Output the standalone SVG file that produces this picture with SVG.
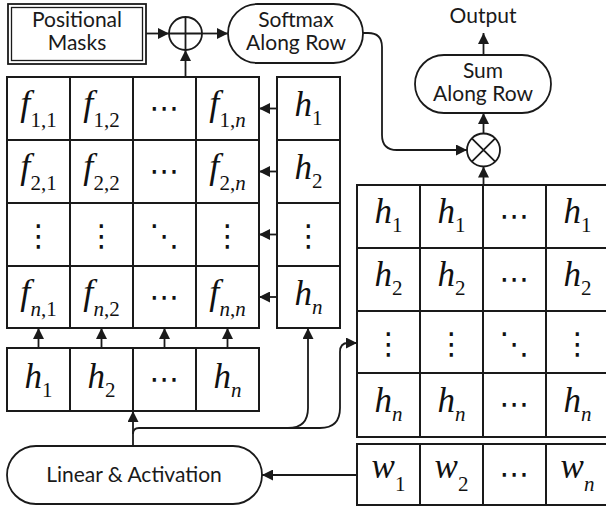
<svg xmlns="http://www.w3.org/2000/svg" width="606" height="508" viewBox="0 0 606 508">
<defs>
<style>
.bx{fill:#fff;stroke:#1a1a1a;stroke-width:1.8}
.cell{fill:#fff;stroke:#1a1a1a;stroke-width:2}
.ln{fill:none;stroke:#1a1a1a;stroke-width:1.8}
</style>
<marker id="ah" viewBox="0 0 10 10" refX="10" refY="5" markerWidth="11" markerHeight="11" markerUnits="userSpaceOnUse" orient="auto">
<path d="M0,0 L10,5 L0,10 z" fill="#1a1a1a"/>
</marker>
</defs>

<g id="positional-masks">
<rect class="bx" x="8" y="4" width="138" height="60"/>
<rect class="bx" x="11.5" y="7.5" width="131" height="53" style="stroke-width:1.3"/>
<text style="font-family:Lato,sans-serif;font-size:21px;fill:#1a1a1a;text-anchor:middle" x="77" y="27">Positional</text>
<text style="font-family:Lato,sans-serif;font-size:21px;fill:#1a1a1a;text-anchor:middle" x="77" y="50">Masks</text>
</g>

<g id="plus">
<circle class="bx" cx="185.5" cy="33.5" r="16.5"/>
<path class="ln" d="M169,33.5 H202 M185.5,17 V50"/>
</g>

<g id="softmax">
<rect class="bx" x="228" y="4" width="135" height="59" rx="29.5"/>
<text style="font-family:Lato,sans-serif;font-size:21px;fill:#1a1a1a;text-anchor:middle" x="296" y="27">Softmax</text>
<text style="font-family:Lato,sans-serif;font-size:21px;fill:#1a1a1a;text-anchor:middle" x="296" y="50">Along Row</text>
</g>

<g id="output"><text style="font-family:Lato,sans-serif;font-size:21px;fill:#1a1a1a;text-anchor:middle" x="483" y="23">Output</text></g>

<g id="sum">
<rect class="bx" x="415" y="55" width="136" height="58" rx="29"/>
<text style="font-family:Lato,sans-serif;font-size:21px;fill:#1a1a1a;text-anchor:middle" x="483" y="78">Sum</text>
<text style="font-family:Lato,sans-serif;font-size:21px;fill:#1a1a1a;text-anchor:middle" x="483" y="101">Along Row</text>
</g>

<g id="times">
<circle class="bx" cx="483.5" cy="150" r="16.5"/>
<path class="ln" d="M471.8,138.3 L495.2,161.7 M495.2,138.3 L471.8,161.7"/>
</g>

<g id="f-matrix">
<rect class="cell" x="7" y="77" width="252" height="251"/>
<path class="ln" style="stroke-width:2" d="M70,77 V328 M133,77 V328 M196,77 V328 M7,140 H259 M7,203 H259 M7,266 H259"/>
<text style="font-family:'Liberation Serif',serif;font-size:36px;font-style:italic;fill:#111;text-anchor:middle" x="38.5" y="115">f<tspan style="font-size:21px;font-style:normal" dy="12">1,1</tspan></text>
<text style="font-family:'Liberation Serif',serif;font-size:36px;font-style:italic;fill:#111;text-anchor:middle" x="101.5" y="115">f<tspan style="font-size:21px;font-style:normal" dy="12">1,2</tspan></text>
<text style="font-family:'DejaVu Sans',sans-serif;font-size:30px;fill:#111;text-anchor:middle" x="164.5" y="118">⋯</text>
<text style="font-family:'Liberation Serif',serif;font-size:36px;font-style:italic;fill:#111;text-anchor:middle" x="227.5" y="115">f<tspan style="font-size:21px;font-style:normal" dy="12">1,</tspan><tspan style="font-size:21px">n</tspan></text>
<text style="font-family:'Liberation Serif',serif;font-size:36px;font-style:italic;fill:#111;text-anchor:middle" x="38.5" y="178">f<tspan style="font-size:21px;font-style:normal" dy="12">2,1</tspan></text>
<text style="font-family:'Liberation Serif',serif;font-size:36px;font-style:italic;fill:#111;text-anchor:middle" x="101.5" y="178">f<tspan style="font-size:21px;font-style:normal" dy="12">2,2</tspan></text>
<text style="font-family:'DejaVu Sans',sans-serif;font-size:30px;fill:#111;text-anchor:middle" x="164.5" y="181">⋯</text>
<text style="font-family:'Liberation Serif',serif;font-size:36px;font-style:italic;fill:#111;text-anchor:middle" x="227.5" y="178">f<tspan style="font-size:21px;font-style:normal" dy="12">2,</tspan><tspan style="font-size:21px">n</tspan></text>
<text style="font-family:'DejaVu Sans',sans-serif;font-size:30px;fill:#111;text-anchor:middle" x="38.5" y="246">⋮</text>
<text style="font-family:'DejaVu Sans',sans-serif;font-size:30px;fill:#111;text-anchor:middle" x="101.5" y="246">⋮</text>
<text style="font-family:'DejaVu Sans',sans-serif;font-size:30px;fill:#111;text-anchor:middle" x="164.5" y="246">⋱</text>
<text style="font-family:'DejaVu Sans',sans-serif;font-size:30px;fill:#111;text-anchor:middle" x="227.5" y="246">⋮</text>
<text style="font-family:'Liberation Serif',serif;font-size:36px;font-style:italic;fill:#111;text-anchor:middle" x="38.5" y="304">f<tspan style="font-size:21px" dy="12">n</tspan><tspan style="font-size:21px;font-style:normal">,1</tspan></text>
<text style="font-family:'Liberation Serif',serif;font-size:36px;font-style:italic;fill:#111;text-anchor:middle" x="101.5" y="304">f<tspan style="font-size:21px" dy="12">n</tspan><tspan style="font-size:21px;font-style:normal">,2</tspan></text>
<text style="font-family:'DejaVu Sans',sans-serif;font-size:30px;fill:#111;text-anchor:middle" x="164.5" y="307">⋯</text>
<text style="font-family:'Liberation Serif',serif;font-size:36px;font-style:italic;fill:#111;text-anchor:middle" x="227.5" y="304">f<tspan style="font-size:21px" dy="12">n</tspan><tspan style="font-size:21px;font-style:normal">,</tspan><tspan style="font-size:21px">n</tspan></text>
</g>

<g id="h-column">
<rect class="cell" x="277" y="77" width="63" height="251"/>
<path class="ln" style="stroke-width:2" d="M277,140 H340 M277,203 H340 M277,266 H340"/>
<text style="font-family:'Liberation Serif',serif;font-size:35px;font-style:italic;fill:#111;text-anchor:middle" x="308.5" y="116">h<tspan style="font-size:21px;font-style:normal" dy="9">1</tspan></text>
<text style="font-family:'Liberation Serif',serif;font-size:35px;font-style:italic;fill:#111;text-anchor:middle" x="308.5" y="179">h<tspan style="font-size:21px;font-style:normal" dy="9">2</tspan></text>
<text style="font-family:'DejaVu Sans',sans-serif;font-size:30px;fill:#111;text-anchor:middle" x="308.5" y="246">⋮</text>
<text style="font-family:'Liberation Serif',serif;font-size:35px;font-style:italic;fill:#111;text-anchor:middle" x="308.5" y="305">h<tspan style="font-size:21px" dy="9">n</tspan></text>
</g>

<g id="h-row">
<rect class="cell" x="7" y="348" width="252" height="63"/>
<path class="ln" style="stroke-width:2" d="M70,348 V411 M133,348 V411 M196,348 V411"/>
<text style="font-family:'Liberation Serif',serif;font-size:35px;font-style:italic;fill:#111;text-anchor:middle" x="38.5" y="388">h<tspan style="font-size:21px;font-style:normal" dy="9">1</tspan></text>
<text style="font-family:'Liberation Serif',serif;font-size:35px;font-style:italic;fill:#111;text-anchor:middle" x="101.5" y="388">h<tspan style="font-size:21px;font-style:normal" dy="9">2</tspan></text>
<text style="font-family:'DejaVu Sans',sans-serif;font-size:30px;fill:#111;text-anchor:middle" x="164.5" y="389">⋯</text>
<text style="font-family:'Liberation Serif',serif;font-size:35px;font-style:italic;fill:#111;text-anchor:middle" x="227.5" y="388">h<tspan style="font-size:21px" dy="9">n</tspan></text>
</g>

<g id="h-matrix">
<rect class="cell" x="357" y="185" width="252" height="252"/>
<path class="ln" style="stroke-width:2" d="M420,185 V437 M483,185 V437 M546,185 V437 M357,248 H609 M357,311 H609 M357,373 H609"/>
<text style="font-family:'Liberation Serif',serif;font-size:35px;font-style:italic;fill:#111;text-anchor:middle" x="388.5" y="223">h<tspan style="font-size:21px;font-style:normal" dy="9">1</tspan></text>
<text style="font-family:'Liberation Serif',serif;font-size:35px;font-style:italic;fill:#111;text-anchor:middle" x="451.5" y="223">h<tspan style="font-size:21px;font-style:normal" dy="9">1</tspan></text>
<text style="font-family:'DejaVu Sans',sans-serif;font-size:30px;fill:#111;text-anchor:middle" x="514.5" y="226">⋯</text>
<text style="font-family:'Liberation Serif',serif;font-size:35px;font-style:italic;fill:#111;text-anchor:middle" x="577.5" y="223">h<tspan style="font-size:21px;font-style:normal" dy="9">1</tspan></text>
<text style="font-family:'Liberation Serif',serif;font-size:35px;font-style:italic;fill:#111;text-anchor:middle" x="388.5" y="286">h<tspan style="font-size:21px;font-style:normal" dy="9">2</tspan></text>
<text style="font-family:'Liberation Serif',serif;font-size:35px;font-style:italic;fill:#111;text-anchor:middle" x="451.5" y="286">h<tspan style="font-size:21px;font-style:normal" dy="9">2</tspan></text>
<text style="font-family:'DejaVu Sans',sans-serif;font-size:30px;fill:#111;text-anchor:middle" x="514.5" y="289">⋯</text>
<text style="font-family:'Liberation Serif',serif;font-size:35px;font-style:italic;fill:#111;text-anchor:middle" x="577.5" y="286">h<tspan style="font-size:21px;font-style:normal" dy="9">2</tspan></text>
<text style="font-family:'DejaVu Sans',sans-serif;font-size:30px;fill:#111;text-anchor:middle" x="388.5" y="354">⋮</text>
<text style="font-family:'DejaVu Sans',sans-serif;font-size:30px;fill:#111;text-anchor:middle" x="451.5" y="354">⋮</text>
<text style="font-family:'DejaVu Sans',sans-serif;font-size:30px;fill:#111;text-anchor:middle" x="514.5" y="354">⋱</text>
<text style="font-family:'DejaVu Sans',sans-serif;font-size:30px;fill:#111;text-anchor:middle" x="577.5" y="354">⋮</text>
<text style="font-family:'Liberation Serif',serif;font-size:35px;font-style:italic;fill:#111;text-anchor:middle" x="388.5" y="412">h<tspan style="font-size:21px" dy="9">n</tspan></text>
<text style="font-family:'Liberation Serif',serif;font-size:35px;font-style:italic;fill:#111;text-anchor:middle" x="451.5" y="412">h<tspan style="font-size:21px" dy="9">n</tspan></text>
<text style="font-family:'DejaVu Sans',sans-serif;font-size:30px;fill:#111;text-anchor:middle" x="514.5" y="414">⋯</text>
<text style="font-family:'Liberation Serif',serif;font-size:35px;font-style:italic;fill:#111;text-anchor:middle" x="577.5" y="412">h<tspan style="font-size:21px" dy="9">n</tspan></text>
</g>

<g id="w-row">
<rect class="cell" x="357" y="444" width="252" height="61"/>
<path class="ln" style="stroke-width:2" d="M420,444 V505 M483,444 V505 M546,444 V505"/>
<text style="font-family:'Liberation Serif',serif;font-size:35px;font-style:italic;fill:#111;text-anchor:middle" x="388.5" y="478">w<tspan style="font-size:21px;font-style:normal" dy="13">1</tspan></text>
<text style="font-family:'Liberation Serif',serif;font-size:35px;font-style:italic;fill:#111;text-anchor:middle" x="451.5" y="478">w<tspan style="font-size:21px;font-style:normal" dy="13">2</tspan></text>
<text style="font-family:'DejaVu Sans',sans-serif;font-size:30px;fill:#111;text-anchor:middle" x="514.5" y="484">⋯</text>
<text style="font-family:'Liberation Serif',serif;font-size:35px;font-style:italic;fill:#111;text-anchor:middle" x="577.5" y="478">w<tspan style="font-size:21px" dy="13">n</tspan></text>
</g>

<g id="linear">
<rect class="bx" x="7" y="446" width="255" height="58" rx="29"/>
<text style="font-family:Lato,sans-serif;font-size:21px;fill:#1a1a1a;text-anchor:middle" x="134" y="482">Linear &amp; Activation</text>
</g>

<g id="connectors">
<path class="ln" marker-end="url(#ah)" d="M146,33.5 H169"/>
<path class="ln" marker-end="url(#ah)" d="M202,33.5 H228"/>
<path class="ln" marker-end="url(#ah)" d="M185.5,77 V50"/>
<path class="ln" marker-end="url(#ah)" d="M363,33 H368 Q382,33 382,47 V135 Q382,150 397,150 H467"/>
<path class="ln" marker-end="url(#ah)" d="M483.5,185 V166.5"/>
<path class="ln" marker-end="url(#ah)" d="M483.5,133.5 V113"/>
<path class="ln" marker-end="url(#ah)" d="M483.5,55 V33"/>
<path class="ln" marker-end="url(#ah)" d="M277,108.5 H259"/>
<path class="ln" marker-end="url(#ah)" d="M277,171.5 H259"/>
<path class="ln" marker-end="url(#ah)" d="M277,234.5 H259"/>
<path class="ln" marker-end="url(#ah)" d="M277,297 H259"/>
<path class="ln" marker-end="url(#ah)" d="M38.5,348 V328"/>
<path class="ln" marker-end="url(#ah)" d="M101.5,348 V328"/>
<path class="ln" marker-end="url(#ah)" d="M164.5,348 V328"/>
<path class="ln" marker-end="url(#ah)" d="M227.5,348 V328"/>
<path class="ln" marker-end="url(#ah)" d="M133,446 V411"/>
<path class="ln" marker-end="url(#ah)" d="M133,434 Q133,428 139,428 H288 Q308,428 308,408 V328"/>
<path class="ln" marker-end="url(#ah)" d="M288,428 H320 Q340,428 340,408 V352 Q340,343 348,343 H357"/>
<path class="ln" marker-end="url(#ah)" d="M357,475 H262"/>
</g>
</svg>
